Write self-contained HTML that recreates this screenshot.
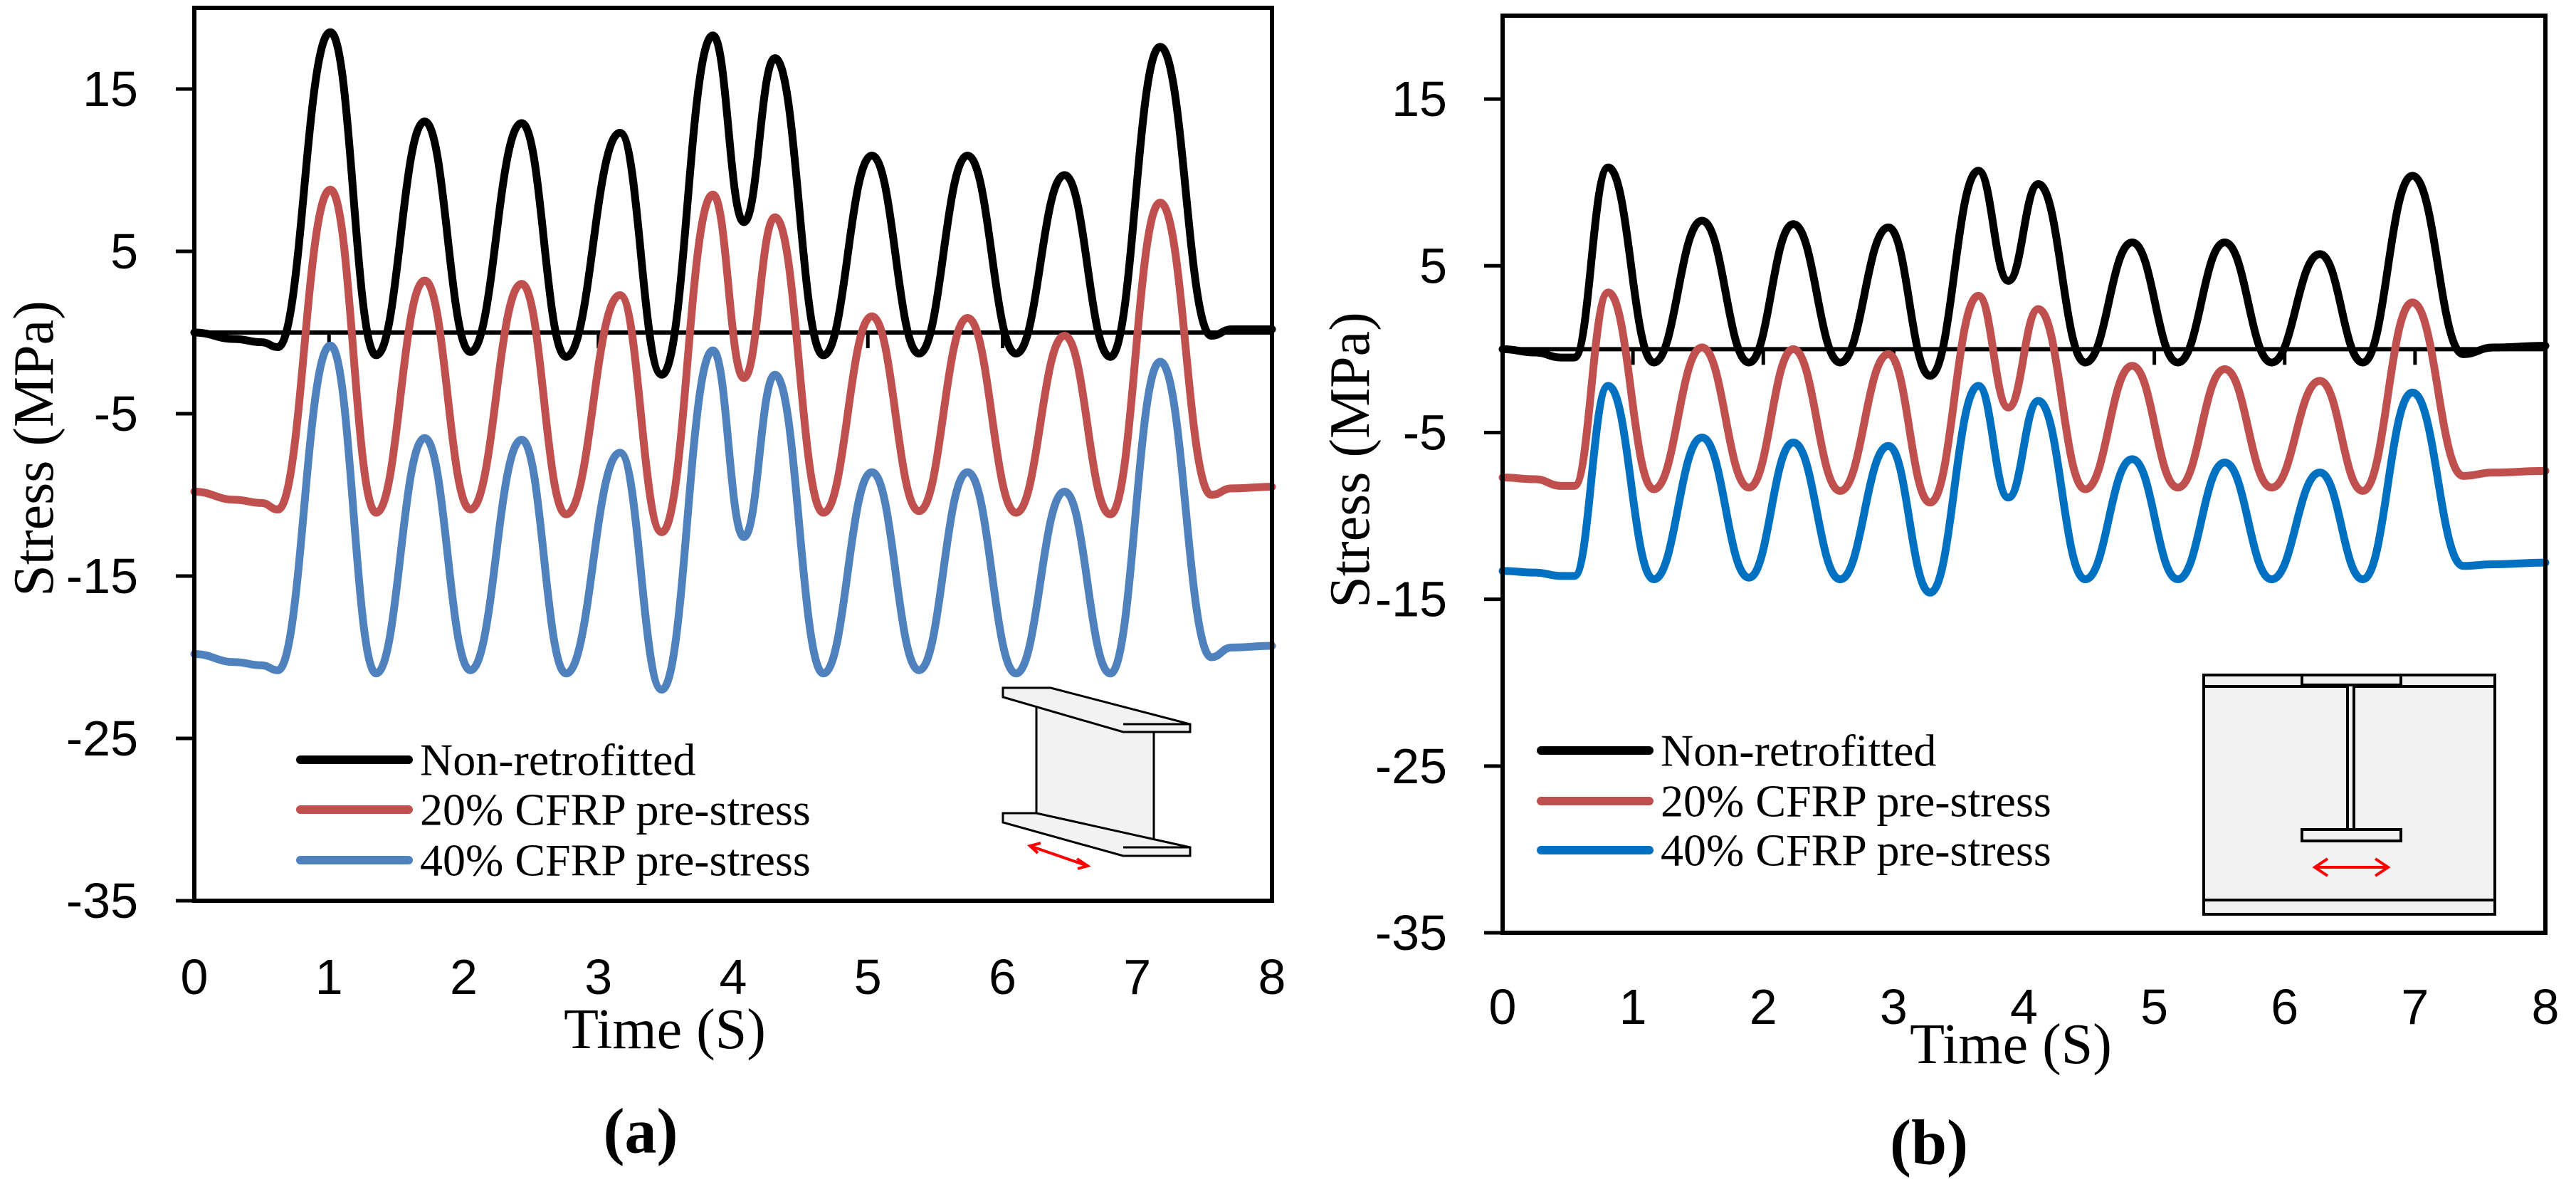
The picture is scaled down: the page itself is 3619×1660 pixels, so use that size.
<!DOCTYPE html>
<html><head><meta charset="utf-8"><style>
html,body{margin:0;padding:0;background:#fff;}
svg{display:block;}
.tick{font-family:"Liberation Sans",sans-serif;font-size:70px;fill:#000;}
.ttl{font-family:"Liberation Serif",serif;font-size:80px;fill:#000;}
.leg{font-family:"Liberation Serif",serif;font-size:64px;fill:#000;}
.cap{font-family:"Liberation Serif",serif;font-size:90px;font-weight:bold;fill:#000;}
</style></head><body>
<svg id="fig" width="3619" height="1660" viewBox="0 0 3619 1660" xmlns="http://www.w3.org/2000/svg">
<g id="panelA"></g>
<g id="panelB"></g>
<g stroke="#000" stroke-width="3" fill="#f2f2f2">
<polygon points="1456,980 1621,1028 1621,1189 1456,1144"/>
<polygon points="1409,966 1476,966 1672,1017 1672,1028 1578,1028 1409,979"/>
<line x1="1578" y1="1017" x2="1672" y2="1017"/>
<polygon points="1409,1142 1456,1142 1672,1190 1672,1202 1578,1202 1409,1155"/>
<line x1="1578" y1="1190" x2="1672" y2="1190"/>
<line x1="1447" y1="1188" x2="1528" y2="1216" stroke="#f00" stroke-width="4"/>
<polyline points="1462,1184 1447,1188 1458,1198" fill="none" stroke="#f00" stroke-width="4"/>
<polyline points="1513,1206 1528,1216 1514,1220" fill="none" stroke="#f00" stroke-width="4"/>
</g>
<g stroke="#000" stroke-width="4" fill="#f2f2f2">
<rect x="3096" y="948" width="409" height="336"/>
<line x1="3096" y1="964" x2="3505" y2="964"/>
<line x1="3096" y1="1264" x2="3505" y2="1264"/>
<rect x="3234" y="948" width="139" height="14"/>
<rect x="3298" y="962" width="9" height="203"/>
<rect x="3234" y="1165" width="139" height="16"/>
<line x1="3252" y1="1218" x2="3355" y2="1218" stroke="#f00" stroke-width="4"/>
<polyline points="3270,1206 3252,1218 3270,1230" fill="none" stroke="#f00" stroke-width="4"/>
<polyline points="3337,1206 3355,1218 3337,1230" fill="none" stroke="#f00" stroke-width="4"/>
</g>
</svg>
<script>
// ---- data ----
const timesA = [0,0.3,0.5,0.62,1.01,1.35,1.71,2.05,2.43,2.76,3.16,3.47,3.85,4.08,4.31,4.67,5.03,5.38,5.74,6.10,6.46,6.80,7.17,7.55,7.7,8];
const blackA = [0,-0.4,-0.6,-0.9,18.5,-1.4,13.0,-1.2,12.9,-1.5,12.3,-2.6,18.3,6.8,16.9,-1.4,10.9,-1.3,10.9,-1.3,9.7,-1.5,17.6,-0.2,0.2,0.2];
const redA = [-9.8,-10.3,-10.5,-10.9,8.8,-11.1,3.2,-10.9,3.0,-11.2,2.3,-12.3,8.5,-2.8,7.1,-11.1,1.0,-11.0,0.9,-11.1,-0.2,-11.2,8.0,-10,-9.6,-9.5];
const blueA = [-19.8,-20.3,-20.5,-20.8,-0.8,-21.0,-6.5,-20.8,-6.6,-21.0,-7.4,-22.0,-1.1,-12.6,-2.6,-21.0,-8.6,-20.8,-8.6,-21.0,-9.8,-21.0,-1.8,-20,-19.4,-19.3];
const timesB = [0,0.25,0.45,0.55,0.81,1.16,1.53,1.89,2.23,2.59,2.96,3.28,3.65,3.88,4.11,4.47,4.83,5.18,5.54,5.90,6.27,6.60,6.98,7.37,7.6,8];
const blackB = [0,-0.2,-0.5,-0.5,10.9,-0.8,7.7,-0.8,7.5,-0.8,7.3,-1.6,10.7,4.1,9.9,-0.8,6.4,-0.8,6.4,-0.8,5.7,-0.8,10.4,-0.3,0.1,0.2];
const redB = [-7.7,-7.8,-8.2,-8.2,3.4,-8.4,0.1,-8.3,0.0,-8.5,-0.3,-9.2,3.2,-3.5,2.4,-8.4,-1.0,-8.3,-1.2,-8.3,-1.9,-8.5,2.8,-7.6,-7.4,-7.3];
const blueB = [-13.3,-13.4,-13.6,-13.6,-2.2,-13.8,-5.3,-13.7,-5.6,-13.8,-5.8,-14.6,-2.2,-8.9,-3.1,-13.8,-6.6,-13.8,-6.8,-13.8,-7.4,-13.8,-2.6,-13.0,-12.9,-12.8];
const yTicks = [15,5,-5,-15,-25,-35];
const xTicks = [0,1,2,3,4,5,6,7,8];
const legendLabelsA = ["Non-retrofitted","20%  CFRP pre-stress","40% CFRP pre-stress"];
const legendLabelsB = ["Non-retrofitted","20% CFRP pre-stress","40% CFRP pre-stress"];

const NS="http://www.w3.org/2000/svg";
function mk(parent,tag,attrs,text){const e=document.createElementNS(NS,tag);for(const k in attrs)e.setAttribute(k,attrs[k]);if(text!==undefined)e.textContent=text;parent.appendChild(e);return e;}

function drawPanel(g,cfg){
  const sx=t=>cfg.x0+(t-0)/(8-0)*(cfg.x1-cfg.x0);
  const sy=v=>cfg.yTop+(20-v)/(20-(-35))*(cfg.yBot-cfg.yTop);
  const zl=mk(g,'line',{x1:cfg.x0,x2:cfg.x1,y1:sy(0),y2:sy(0),stroke:'#000','stroke-width':6});
  
  
  xTicks.forEach(t=>{
    const tk=mk(g,'line',{x1:sx(t),x2:sx(t),y1:sy(0),y2:sy(0)+22,stroke:'#000','stroke-width':5});
    
    
    const tl=mk(g,'text',{x:sx(t),y:cfg.xLabY,'text-anchor':'middle','dominant-baseline':'central',class:'tick'},String(t));
    
    
  });
  yTicks.forEach(v=>{
    const tk=mk(g,'line',{x1:cfg.x0-26,x2:cfg.x0,y1:sy(v),y2:sy(v),stroke:'#000','stroke-width':5});
    
    
    const tl=mk(g,'text',{x:cfg.yLabX,y:sy(v),'text-anchor':'end','dominant-baseline':'central',class:'tick'},String(v));
    
    
  });
  cfg.series.forEach(s=>{
    let d='M'+sx(s.t[0])+','+sy(s.v[0]);
    for(let i=1;i<s.t.length;i++){
      const xa=sx(s.t[i-1]),xb=sx(s.t[i]),ya=sy(s.v[i-1]),yb=sy(s.v[i]);const h=(xb-xa)*0.45;
      d+=' C'+(xa+h)+','+ya+' '+(xb-h)+','+yb+' '+xb+','+yb;
    }
    const p=mk(g,'path',{d:d,fill:'none',stroke:s.c,'stroke-width':11,'stroke-linejoin':'round','stroke-linecap':'round'});
    
    
  });
  const fr=mk(g,'rect',{x:cfg.x0,y:cfg.yTop,width:cfg.x1-cfg.x0,height:cfg.yBot-cfg.yTop,fill:'none',stroke:'#000','stroke-width':6});
  
  
  cfg.series.forEach((s,i)=>{
    const ly=cfg.legY[i];
    const ll=mk(g,'line',{x1:cfg.legX1,x2:cfg.legX2,y1:ly,y2:ly,stroke:s.c,'stroke-width':12,'stroke-linecap':'round'});
    
    
    const lt=mk(g,'text',{x:cfg.legX2+16,y:ly,'dominant-baseline':'central',class:'leg'},cfg.legLabels[i]);
    
    
  });
  const xt=mk(g,'text',{x:cfg.xTitleX,y:cfg.xTitleY,'text-anchor':'middle','dominant-baseline':'central',class:'ttl'},'Time (S)');
  
  
  const yt=mk(g,'text',{x:0,y:0,'text-anchor':'middle','dominant-baseline':'central',class:'ttl',transform:'translate('+cfg.yTitleX+','+cfg.yTitleY+') rotate(-90)'},'Stress (MPa)');
  
  
  const cp=mk(g,'text',{x:cfg.capX,y:cfg.capY,'text-anchor':'middle','dominant-baseline':'central',class:'cap'},cfg.cap);
  
  
}
drawPanel(document.getElementById('panelA'),{x0:273,x1:1787,yTop:11,yBot:1265,xLabY:1372,yLabX:194,
  series:[{t:timesA,v:blackA,c:'#000000',name:'series-non-retrofitted'},{t:timesA,v:redA,c:'#C0504D',name:'series-20pct-prestress'},{t:timesA,v:blueA,c:'#4F81BD',name:'series-40pct-prestress'}],
  legX1:422,legX2:574,legY:[1067,1137,1208],legLabels:legendLabelsA,xTitleX:934,xTitleY:1446,yTitleX:48,yTitleY:630,capX:900,capY:1589,cap:'(a)'});
drawPanel(document.getElementById('panelB'),{x0:2111,x1:3576,yTop:22,yBot:1310,xLabY:1414,yLabX:2033,
  series:[{t:timesB,v:blackB,c:'#000000',name:'series-non-retrofitted'},{t:timesB,v:redB,c:'#C0504D',name:'series-20pct-prestress'},{t:timesB,v:blueB,c:'#0070C0',name:'series-40pct-prestress'}],
  legX1:2165,legX2:2317,legY:[1054,1125,1194],legLabels:legendLabelsB,xTitleX:2825,xTitleY:1467,yTitleX:1897,yTitleY:646,capX:2710,capY:1605,cap:'(b)'});
</script>
</body></html>
